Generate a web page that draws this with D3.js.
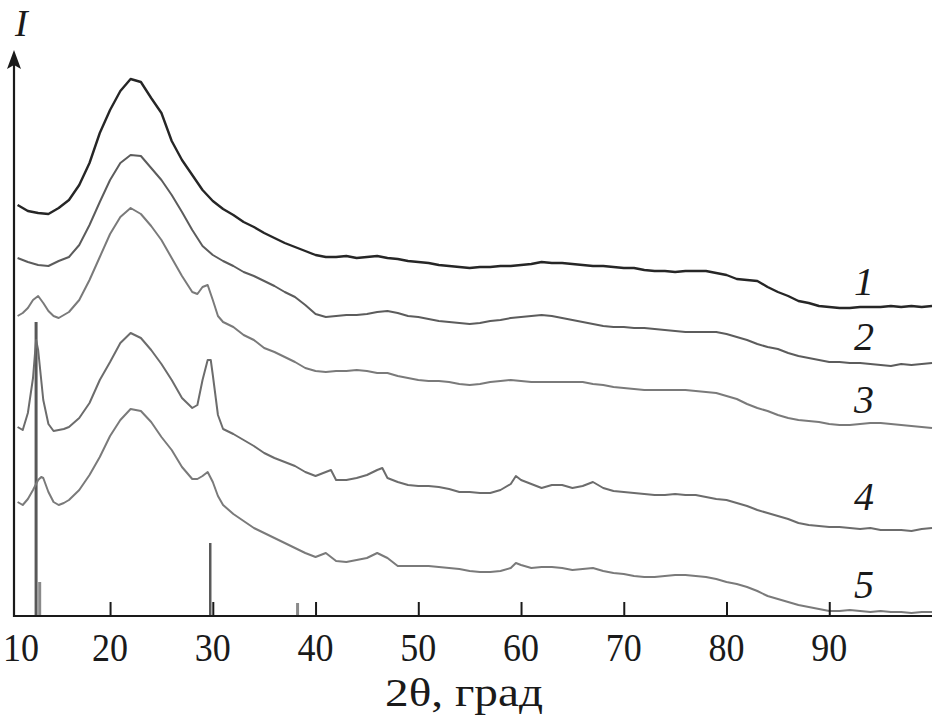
<!DOCTYPE html>
<html>
<head>
<meta charset="utf-8">
<script src="https://cdn.jsdelivr.net/npm/d3@7"></script>
<style>
  html, body { margin: 0; padding: 0; background: #fff; }
  svg { display: block; }
  text { font-family: "Liberation Serif", "Times New Roman", serif; fill: #1a1a1a; }
</style>
</head>
<body>
<svg id="chart" width="936" height="725"></svg>
<script>
// ---------- data (2θ in degrees, intensity in arbitrary units, curves stacked) ----------
const xTickLabels = [10, 20, 30, 40, 50, 60, 70, 80, 90];
const xAxisTitle = "2θ, град";
const yAxisTitle = "I";
const curveLabels = ["1", "2", "3", "4", "5"];
const curveLabelPos = [321, 266, 203, 106, 18];   // intensity level of each curve label baseline

const curve1 = [[11,411],[12,405],[13,403],[14,402],[15,408],[16,416],[17,431],[18,453],[19,483],[20,506],[21,525],[22,537],[23,534],[24,518],[25,503],[26,475],[27,456],[28,441],[29,426],[30,415],[31,407],[32,401],[33,394],[34,389],[35,383],[36,378],[37,373],[38,369],[39,365],[40,361],[41,359],[42,359],[43,360],[44,358],[45,359],[46,360],[47,358],[48,357],[49,355],[50,354],[51,353],[52,351],[53,350],[54,349],[55,348],[56,349],[57,349],[58,350],[59,350],[60,351],[61,352],[62,354],[63,353],[64,353],[65,352],[66,351],[67,350],[68,350],[69,349],[70,348],[71,348],[72,346],[73,345],[74,345],[75,344],[76,345],[77,345],[78,345],[79,343],[80,341],[81,337],[82,336],[83,335],[84,329],[85,324],[86,320],[87,315],[88,313],[89,310],[90,309],[91,308],[92,308],[93,309],[94,309],[95,309],[96,310],[97,309],[98,310],[99,309],[100,310]];

const curve2 = [[11,358],[12,354],[13,351],[14,350],[15,355],[16,359],[17,371],[18,391],[19,414],[20,436],[21,453],[22,461],[23,460],[24,448],[25,436],[26,421],[27,404],[28,386],[29,370],[30,361],[31,355],[32,350],[33,344],[34,340],[35,335],[36,330],[37,324],[38,319],[39,311],[40,302],[41,299],[42,300],[43,301],[44,301],[45,302],[46,304],[47,305],[48,303],[49,300],[50,299],[51,297],[52,295],[53,294],[54,293],[55,292],[56,293],[57,295],[58,296],[59,298],[60,299],[61,300],[62,301],[63,300],[64,298],[65,296],[66,294],[67,292],[68,290],[69,289],[70,289],[71,288],[72,288],[73,287],[74,286],[75,285],[76,284],[77,284],[78,284],[79,284],[80,282],[81,279],[82,276],[83,272],[84,269],[85,267],[86,263],[87,260],[88,258],[89,256],[90,254],[91,254],[92,253],[93,253],[94,252],[95,251],[96,250],[97,252],[98,251],[99,252],[100,253]];

const curve3 = [[11,300],[11.5,303],[12,308],[12.5,316],[13,320],[13.5,313],[14,305],[14.5,300],[15,298],[16,304],[17,316],[18,336],[19,359],[20,382],[21,399],[22,408],[23,402],[24,390],[25,376],[26,358],[27,340],[28,324],[28.5,322],[29,329],[29.5,331],[30,316],[30.5,300],[31,294],[32,289],[33,281],[34,276],[35,268],[36,264],[37,259],[38,254],[39,248],[40,245],[41,244],[42,245],[43,245],[44,246],[45,245],[46,243],[47,243],[48,240],[49,238],[50,236],[51,235],[52,235],[53,234],[54,232],[55,231],[56,232],[57,234],[58,235],[59,236],[60,235],[61,234],[62,234],[63,234],[64,234],[65,234],[66,234],[67,232],[68,231],[69,229],[70,228],[71,227],[72,226],[73,226],[74,226],[75,226],[76,226],[77,225],[78,224],[79,223],[80,220],[81,217],[82,212],[83,208],[84,205],[85,201],[86,198],[87,196],[88,195],[89,194],[90,192],[91,191],[92,191],[93,192],[94,193],[95,193],[96,192],[97,191],[98,190],[99,189],[100,188]];

const curve4 = [[11,189],[11.5,186],[12,203],[12.5,238],[12.8,276],[13,266],[13.5,216],[14,192],[14.5,185],[15,186],[15.5,187],[16,189],[17,198],[18,213],[19,236],[20,254],[21,273],[22,283],[23,278],[24,266],[25,252],[26,236],[27,218],[28,208],[28.5,211],[29,236],[29.5,256],[29.8,256],[30,241],[30.5,201],[31,187],[32,182],[33,176],[34,170],[35,163],[36,158],[37,154],[38,150],[39,144],[40,140],[41,144],[41.5,146],[42,136],[43,136],[44,138],[45,141],[46,146],[46.5,148],[47,138],[48,134],[49,131],[50,130],[51,130],[52,129],[53,127],[54,124],[55,124],[56,123],[57,123],[58,126],[59,132],[59.5,140],[60,136],[61,132],[62,128],[63,131],[64,131],[65,128],[66,130],[67,134],[68,128],[69,125],[70,124],[71,123],[72,122],[73,121],[74,121],[75,122],[76,121],[77,121],[78,119],[79,117],[80,116],[81,113],[82,110],[83,106],[84,103],[85,100],[86,97],[87,93],[88,91],[89,90],[90,89],[91,89],[92,88],[93,87],[94,88],[95,86],[96,86],[97,86],[98,85],[99,87],[100,88]];

const curve5 = [[11,114],[11.5,111],[12,117],[12.5,126],[13,136],[13.3,139],[13.5,138],[14,124],[14.5,114],[15,111],[15.5,113],[16,116],[17,126],[18,141],[19,159],[20,180],[21,196],[22,207],[23,205],[24,194],[25,179],[26,166],[27,149],[28,137],[28.5,137],[29,140],[29.5,144],[30,134],[30.5,120],[31,111],[32,102],[33,95],[34,88],[35,83],[36,78],[37,73],[38,68],[39,63],[40,59],[41,63],[42,55],[43,54],[44,56],[45,58],[46,63],[47,58],[48,50],[49,50],[50,50],[51,50],[52,49],[53,48],[54,47],[55,45],[56,44],[57,44],[58,45],[59,48],[59.5,53],[60,51],[61,48],[62,49],[63,49],[64,48],[65,46],[66,47],[67,48],[68,45],[69,43],[70,42],[71,40],[72,39],[73,39],[74,40],[75,41],[76,41],[77,40],[78,39],[79,37],[80,34],[81,32],[82,29],[83,25],[84,20],[85,17],[86,14],[87,11],[88,9],[89,7],[90,5],[91,5],[92,6],[93,5],[94,4],[95,5],[96,4],[97,4],[98,3],[99,4],[100,4]];

// reference (card) line positions and relative heights
const stickPos = [12.8, 13.15, 29.75, 38.25];
const stickHeight = [294, 34, 73, 13];

// ---------- drawing ----------
const svg = d3.select("#chart");
const x = d3.scaleLinear().domain([10.65, 100]).range([14, 932]);
const y = d3.scaleLinear().domain([0, 546]).range([616, 70]);

const series = [curve1, curve2, curve3, curve4, curve5];
const colors = ["#262626", "#5c5c5c", "#7a7a7a", "#6c6c6c", "#7a7a7a"];
const widths = [2.4, 2.0, 2.0, 2.0, 2.0];

// stick pattern
const stickColors = ["#585858", "#8a8a8a", "#5a5a5a", "#8a8a8a"];
const stickWidths = [3, 3, 2.5, 3];
svg.append("g").selectAll("line").data(stickPos).join("line")
  .attr("x1", d => x(d)).attr("x2", d => x(d))
  .attr("y1", y(0)).attr("y2", (d, i) => y(stickHeight[i]))
  .attr("stroke", (d, i) => stickColors[i])
  .attr("stroke-width", (d, i) => stickWidths[i]);

// curves
const line = d3.line().x(d => x(d[0])).y(d => y(d[1])).curve(d3.curveLinear);
svg.append("g").selectAll("path").data(series).join("path")
  .attr("d", line)
  .attr("fill", "none")
  .attr("stroke", (d, i) => colors[i])
  .attr("stroke-width", (d, i) => widths[i])
  .attr("stroke-linejoin", "round");

// x axis
const xAxis = d3.axisBottom(x).tickValues(xTickLabels.filter(v => v > 10)).tickSize(-14).tickFormat("");
const gx = svg.append("g").attr("transform", `translate(0,${y(0)})`).call(xAxis);
gx.select(".domain").remove();
gx.selectAll(".tick line").attr("stroke", "#1a1a1a").attr("stroke-width", 2);
svg.append("line").attr("x1", x(10.65) - 1).attr("x2", x(100)).attr("y1", y(0)).attr("y2", y(0))
  .attr("stroke", "#1a1a1a").attr("stroke-width", 2.2);

// tick labels
svg.append("g").selectAll("text").data(xTickLabels).join("text")
  .attr("x", d => Math.max(x(d), 21))
  .attr("y", 661)
  .attr("text-anchor", "middle")
  .attr("font-size", 40)
  .attr("textLength", 36)
  .attr("lengthAdjust", "spacingAndGlyphs")
  .text(d => d);

svg.append("text")
  .attr("x", 464).attr("y", 706)
  .attr("text-anchor", "middle")
  .attr("font-size", 40)
  .attr("textLength", 158)
  .attr("lengthAdjust", "spacingAndGlyphs")
  .text(xAxisTitle);

// y axis with arrow
svg.append("line").attr("x1", 14).attr("x2", 14).attr("y1", y(0) + 1).attr("y2", 62)
  .attr("stroke", "#1a1a1a").attr("stroke-width", 2.2);
svg.append("path").attr("d", "M14,50 L7,69 L14,65 L21,69 Z").attr("fill", "#1a1a1a");
svg.append("text")
  .attr("x", 15).attr("y", 36)
  .attr("font-size", 38).attr("font-style", "italic")
  .text(yAxisTitle);

// curve labels
svg.append("g").selectAll("text").data(curveLabels).join("text")
  .attr("x", 854)
  .attr("y", (d, i) => y(curveLabelPos[i]))
  .attr("font-size", 40).attr("font-style", "italic")
  .text(d => d);
</script>
</body>
</html>
